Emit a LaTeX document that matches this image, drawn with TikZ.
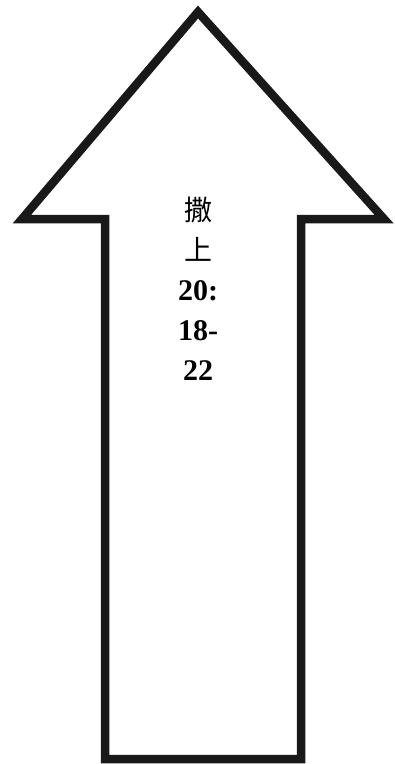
\documentclass[tikz,border=0pt]{standalone}
\usepackage{fontspec}
\setmainfont{Liberation Serif}
\newfontfamily\cjk{Noto Sans CJK TC}
\begin{document}
\begin{tikzpicture}[x=1pt,y=-1pt]
    \useasboundingbox (0,0) rectangle (395,764);

    % Up arrow outline
    \draw[line width=8.5pt, draw=black!90, line join=miter]
        (198,12) -- (384,219) -- (301,219) -- (301,759)
        -- (105,759) -- (105,219) -- (22,219) -- cycle;

    % Verse label
    \node[anchor=north, align=center, inner sep=0pt, font=\fontsize{30}{40}\selectfont]
        (verse) at (198,197) {{\cjk\fontsize{28}{40}\selectfont 撒}\\{\cjk\fontsize{28}{40}\selectfont 上}\\\textbf{20:}\\\textbf{18-}\\\textbf{22}};

\end{tikzpicture}
\end{document}
